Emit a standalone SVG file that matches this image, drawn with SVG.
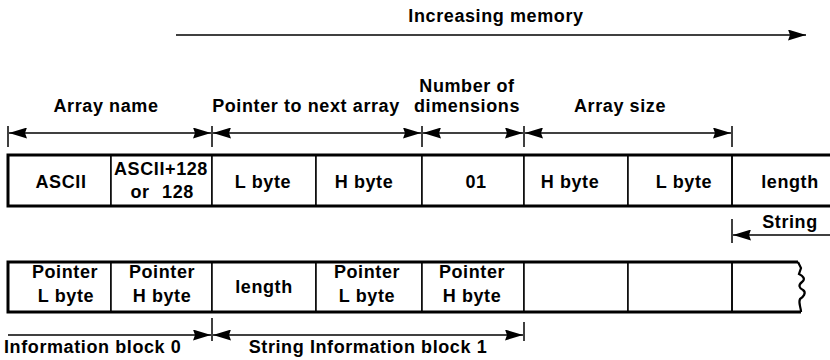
<svg xmlns="http://www.w3.org/2000/svg" width="830" height="360" viewBox="0 0 830 360">
<style>
text{font-family:"Liberation Sans",Arial,Helvetica,sans-serif;font-weight:bold;font-size:18px;letter-spacing:0.6px;fill:#000;text-anchor:middle}
.cell{fill:#fff;stroke:#000;stroke-width:1.5}
.frame{fill:none;stroke:#000;stroke-width:3;stroke-linejoin:miter}
.dim{fill:none;stroke:#000;stroke-width:1.6}
.tick{fill:none;stroke:#000;stroke-width:1.5}
</style>
<defs>
<marker id="ah" markerUnits="userSpaceOnUse" markerWidth="18" markerHeight="11" viewBox="0 0 18 11" refX="18" refY="5.5" orient="auto-start-reverse">
<path d="M0,0 L18,5.5 L0,11 L2,5.5 z" fill="#000"/>
</marker>
</defs>
<rect width="830" height="360" fill="#fff"/>

<g id="title">
<text x="496" y="22">Increasing memory</text>
</g>

<g id="field-labels">
<text x="106" y="112">Array name</text>
<text x="306" y="112">Pointer to next array</text>
<text x="467" y="92">Number of</text>
<text x="467" y="112">dimensions</text>
<text x="620" y="112">Array size</text>
</g>

<g id="row1">
<g id="r1c1"><rect class="cell" x="8" y="155" width="103" height="51"/><text x="61" y="188">ASCII</text></g>
<g id="r1c2"><rect class="cell" x="111" y="155" width="101" height="51"/><text x="161" y="175">ASCII+128</text><text><tspan x="140" y="198">or</tspan><tspan x="178" y="198">128</tspan></text></g>
<g id="r1c3"><rect class="cell" x="212" y="155" width="104" height="51"/><text x="263" y="188">L byte</text></g>
<g id="r1c4"><rect class="cell" x="316" y="155" width="106" height="51"/><text x="364" y="188">H byte</text></g>
<g id="r1c5"><rect class="cell" x="422" y="155" width="102" height="51"/><text x="476" y="188">01</text></g>
<g id="r1c6"><rect class="cell" x="524" y="155" width="104" height="51"/><text x="570" y="188">H byte</text></g>
<g id="r1c7"><rect class="cell" x="628" y="155" width="104" height="51"/><text x="684" y="188">L byte</text></g>
<g id="r1c8"><line class="cell" x1="732" y1="155" x2="732" y2="206"/><text x="790" y="188">length</text></g>
<path class="frame" d="M832,155 H8 V206 H832"/>
</g>

<g id="row2">
<g id="r2c1"><rect class="cell" x="8" y="262" width="103" height="50"/><text x="65" y="278">Pointer</text><text x="66" y="302">L byte</text></g>
<g id="r2c2"><rect class="cell" x="111" y="262" width="101" height="50"/><text x="162" y="278">Pointer</text><text x="162" y="302">H byte</text></g>
<g id="r2c3"><rect class="cell" x="212" y="262" width="104" height="50"/><text x="264" y="293">length</text></g>
<g id="r2c4"><rect class="cell" x="316" y="262" width="106" height="50"/><text x="367" y="278">Pointer</text><text x="367" y="302">L byte</text></g>
<g id="r2c5"><rect class="cell" x="422" y="262" width="102" height="50"/><text x="472" y="278">Pointer</text><text x="472" y="302">H byte</text></g>
<g id="r2c6"><rect class="cell" x="524" y="262" width="104" height="50"/></g>
<g id="r2c7"><rect class="cell" x="628" y="262" width="104" height="50"/></g>
<g id="r2c8"><line class="cell" x1="732" y1="262" x2="732" y2="312"/></g>
<path class="frame" d="M798,262 H8 V312 H801"/>
<path fill="none" stroke="#000" stroke-width="2.2" d="M798,262 L801,268 L799,274 C803,276 806,279 802,282 C798,285 799,288 803,290 C807,293 803,297 800,299 C798,303 801,307 801,312"/>
</g>

<g id="bottom-labels">
<text x="4" y="353" style="text-anchor:start">Information block 0</text>
<text x="368" y="353">String Information block 1</text>
<text x="790" y="228">String</text>
</g>

<g id="connectors">
<line class="dim" x1="176" y1="35" x2="806" y2="35" marker-end="url(#ah)"/>
<line class="tick" x1="8" y1="126" x2="8" y2="147"/>
<line class="tick" x1="212" y1="126" x2="212" y2="147"/>
<line class="tick" x1="422" y1="126" x2="422" y2="147"/>
<line class="tick" x1="524" y1="126" x2="524" y2="147"/>
<line class="tick" x1="732" y1="126" x2="732" y2="147"/>
<line class="dim" x1="9" y1="133" x2="211" y2="133" marker-start="url(#ah)" marker-end="url(#ah)"/>
<line class="dim" x1="213" y1="133" x2="421" y2="133" marker-start="url(#ah)" marker-end="url(#ah)"/>
<line class="dim" x1="423" y1="133" x2="523" y2="133" marker-start="url(#ah)" marker-end="url(#ah)"/>
<line class="dim" x1="525" y1="133" x2="731" y2="133" marker-start="url(#ah)" marker-end="url(#ah)"/>
<line class="tick" x1="732" y1="219" x2="732" y2="243"/>
<line class="dim" x1="830" y1="235" x2="733" y2="235" marker-end="url(#ah)"/>
<line class="tick" x1="212" y1="318" x2="212" y2="341"/>
<line class="tick" x1="524" y1="322" x2="524" y2="341"/>
<line class="dim" x1="8" y1="335" x2="211" y2="335" marker-end="url(#ah)"/>
<line class="dim" x1="213" y1="335" x2="523" y2="335" marker-start="url(#ah)" marker-end="url(#ah)"/>
</g>
</svg>
